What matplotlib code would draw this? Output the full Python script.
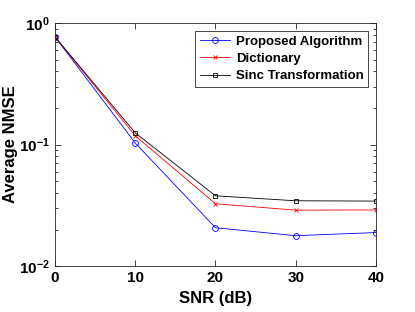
import matplotlib
matplotlib.use("Agg")
import matplotlib.pyplot as plt

snr = [0, 10, 20, 30, 40]
proposed = [0.77, 0.103, 0.0207, 0.0178, 0.0189]
dictionary = [0.77, 0.118, 0.0326, 0.0289, 0.0290]
sinc = [0.77, 0.125, 0.0379, 0.0345, 0.0343]
labels = ["Proposed Algorithm", "Dictionary", "Sinc Transformation"]

plt.rcParams['font.family'] = ['Liberation Sans', 'DejaVu Sans']
plt.rcParams['font.weight'] = 'bold'

fig = plt.figure(figsize=(4.15, 3.12), dpi=100)
ax = fig.add_axes([0.1325, 0.147, 0.7735, 0.779])
ax.semilogy(snr, proposed, color='#0000ff', marker='o', mfc='none', ms=4.2, lw=0.6, mew=0.6, label=labels[0])
ax.semilogy(snr, dictionary, color='#ff0000', marker='x', ms=3, lw=0.6, mew=0.6, label=labels[1])
ax.semilogy(snr, sinc, color='#000000', marker='s', mfc='none', ms=3.5, lw=0.6, mew=0.6, label=labels[2])

ax.set_xlim(0, 40)
ax.set_ylim(1e-2, 1e0)
ax.set_xticks([0, 10, 20, 30, 40])
ax.tick_params(which='both', direction='in', top=True, right=True, labelsize=11, width=0.6, colors='#262626')
ax.tick_params(which='major', length=4)
ax.tick_params(which='minor', length=2)
for lab in ax.get_xticklabels() + ax.get_yticklabels():
    lab.set_fontweight('bold')
    lab.set_color('black')
for s in ax.spines.values():
    s.set_linewidth(0.6)
    s.set_color('#262626')
ax.set_xlabel("SNR (dB)", fontsize=12, fontweight='bold')
ax.set_ylabel("Average NMSE", fontsize=12, fontweight='bold', labelpad=1)
leg = ax.legend(loc='upper right', fontsize=9.5, fancybox=False, edgecolor='#262626',
                framealpha=1, borderpad=0.35, labelspacing=0.38, handlelength=2.3,
                handletextpad=0.4, borderaxespad=0.6)
leg.get_frame().set_linewidth(0.6)
for t in leg.get_texts():
    t.set_fontweight('bold')
fig.savefig("out.png", dpi=100)
